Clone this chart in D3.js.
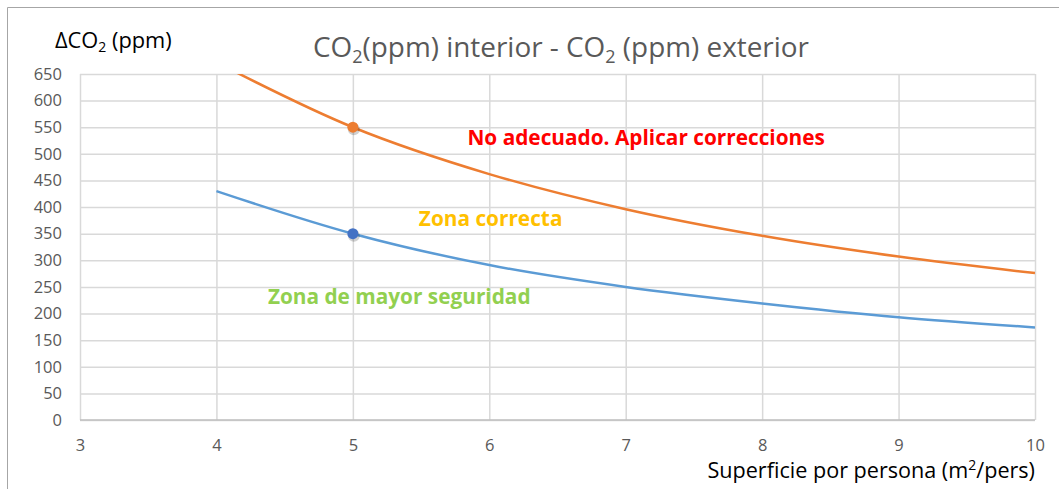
<!DOCTYPE html>
<html>
<head>
<meta charset="utf-8">
<script src="https://cdn.jsdelivr.net/npm/d3@7"></script>
<style>
  body { margin: 0; background: #fff; }
  svg { display: block; font-family: 'Open Sans', sans-serif; }
</style>
</head>
<body>
<div id="chart"></div>
<script>
// data
const superficie = [4, 5, 6, 7, 8, 9, 10];
const limiteNoAdecuado = [672, 550, 462, 396, 346, 307, 276];
const limiteSeguridad = [430, 350, 291, 250, 219, 193, 174];
const puntos = [
  {x: 5, y: 550, color: '#ed7d31'},
  {x: 5, y: 350, color: '#4472c4'}
];
const xTicks = [3, 4, 5, 6, 7, 8, 9, 10];
const yTicks = d3.range(0, 651, 50);
const zonas = [
  {text: 'No adecuado. Aplicar correcciones', x: 7.15, y: 528, color: '#ff0000'},
  {text: 'Zona correcta', x: 6.01, y: 374, color: '#ffc000'},
  {text: 'Zona de mayor seguridad', x: 5.34, y: 229, color: '#92d050'}
];

const option = {
  width: 1059,
  height: 489,
  margin: {top: 74, right: 24, bottom: 69, left: 80}
};

const svg = d3.select('#chart')
    .append('svg')
    .attr('width', option.width)
    .attr('height', option.height);

// outer border
svg.append('path')
    .attr('d', `M7.5,${option.height} V7.5 H${option.width}`)
    .attr('fill', 'none')
    .attr('stroke', '#a6a6a6')
    .attr('stroke-width', 1);

const x = d3.scaleLinear()
    .domain([3, 10])
    .range([option.margin.left, option.width - option.margin.right]);
const y = d3.scaleLinear()
    .domain([0, 650])
    .range([option.height - option.margin.bottom, option.margin.top]);

// gridlines
const xAxis = d3.axisBottom(x)
    .tickValues(xTicks)
    .tickSize(-(y(0) - y(650)))
    .tickPadding(19)
    .tickFormat(d3.format('d'));
const yAxis = d3.axisLeft(y)
    .tickValues(yTicks)
    .tickSize(-(x(10) - x(3)))
    .tickPadding(18);

svg.append('g')
    .attr('transform', `translate(${option.margin.left},0)`)
    .call(yAxis);
svg.append('g')
    .attr('transform', `translate(0,${y(0)})`)
    .call(xAxis);

svg.selectAll('.domain').remove();
svg.selectAll('.tick line')
    .attr('stroke', '#d9d9d9')
    .attr('stroke-width', 1.5);
svg.selectAll('.tick text')
    .attr('fill', '#595959')
    .attr('font-size', 16.5)
    .attr('font-family', "'Open Sans', sans-serif");

// x axis line
svg.append('line')
    .attr('x1', x(3)).attr('x2', x(10))
    .attr('y1', y(0)).attr('y2', y(0))
    .attr('stroke', '#bfbfbf')
    .attr('stroke-width', 1.5);

// curves
svg.append('clipPath')
    .attr('id', 'plot')
    .append('rect')
    .attr('x', x(3)).attr('y', y(650))
    .attr('width', x(10) - x(3)).attr('height', y(0) - y(650));

const line = d3.line()
    .x((d) => x(d[0]))
    .y((d) => y(d[1]))
    .curve(d3.curveCatmullRom.alpha(0.5));

svg.append('path')
    .datum(d3.zip(superficie, limiteNoAdecuado))
    .attr('clip-path', 'url(#plot)')
    .attr('d', line)
    .attr('fill', 'none')
    .attr('stroke', '#ed7d31')
    .attr('stroke-width', 2.5);

svg.append('path')
    .datum(d3.zip(superficie, limiteSeguridad))
    .attr('clip-path', 'url(#plot)')
    .attr('d', line)
    .attr('fill', 'none')
    .attr('stroke', '#5b9bd5')
    .attr('stroke-width', 2.5);

svg.selectAll('circle.shadow')
    .data(puntos)
    .join('circle')
    .attr('class', 'shadow')
    .attr('cx', (d) => x(d.x) + 1)
    .attr('cy', (d) => y(d.y) + 2)
    .attr('r', 6)
    .attr('fill', 'rgba(0,0,0,0.18)');

svg.selectAll('circle.pt')
    .data(puntos)
    .join('circle')
    .attr('class', 'pt')
    .attr('cx', (d) => x(d.x))
    .attr('cy', (d) => y(d.y))
    .attr('r', 5.5)
    .attr('fill', (d) => d.color);

// zone labels
svg.append('g')
    .selectAll('text')
    .data(zonas)
    .join('text')
    .attr('x', (d) => x(d.x))
    .attr('y', (d) => y(d.y))
    .attr('text-anchor', 'middle')
    .attr('dominant-baseline', 'middle')
    .attr('font-weight', 'bold')
    .attr('font-size', 20.8)
    .attr('fill', (d) => d.color)
    .text((d) => d.text);

// title
const title = svg.append('text')
    .attr('x', 561)
    .attr('y', 57)
    .attr('text-anchor', 'middle')
    .attr('fill', '#595959')
    .attr('font-size', 27.9);
title.append('tspan').text('CO');
title.append('tspan').attr('font-size', 18).attr('dy', 6).text('2');
title.append('tspan').attr('dy', -6).text('(ppm) interior - CO');
title.append('tspan').attr('font-size', 18).attr('dy', 6).text('2');
title.append('tspan').attr('dy', -6).text(' (ppm) exterior');

// axis titles
const yTitle = svg.append('text')
    .attr('x', 55)
    .attr('y', 48)
    .attr('fill', '#000')
    .attr('font-size', 21.8);
yTitle.append('tspan').text('ΔCO');
yTitle.append('tspan').attr('font-size', 14).attr('dy', 4).text('2');
yTitle.append('tspan').attr('dy', -4).text(' (ppm)');

const xTitle = svg.append('text')
    .attr('x', 1035)
    .attr('y', 478)
    .attr('text-anchor', 'end')
    .attr('fill', '#000')
    .attr('font-size', 21.6);
xTitle.append('tspan').text('Superficie por persona (m');
xTitle.append('tspan').attr('font-size', 14).attr('dy', -8).text('2');
xTitle.append('tspan').attr('dy', 8).text('/pers)');
</script>
</body>
</html>
